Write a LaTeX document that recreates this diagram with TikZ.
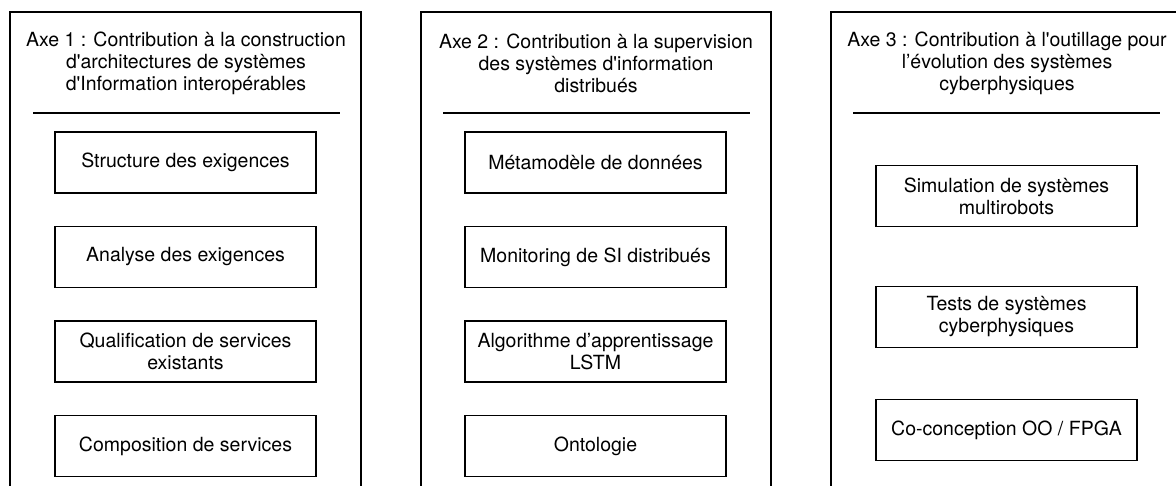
\documentclass[tikz,border=0pt]{standalone}
\usepackage{fontspec}
\newfontfamily\axefont{TeX Gyre Heros}
\usepackage{tikz}
\usetikzlibrary{calc}
\def\drawaxe{\draw[line width=0.7pt]}
\def\titlenode{\node[align=center,inner sep=0pt,font=\axefont\fontsize{9.75}{11}\selectfont]}
\def\tasknode{\node[draw,line width=0.7pt,minimum width=130.5pt,minimum height=30.5pt,inner sep=1pt,align=center,font=\axefont\fontsize{9.75}{11}\selectfont]}

\begin{document}
\begin{tikzpicture}[x=0.5pt,y=-0.5pt]
\clip (0,0) rectangle (1176,486);

% Axe 1
\coordinate (a1) at (10,12); % everything below is relative to (a1)
\drawaxe (a1) rectangle ($ (a1) + (351,520) $);
\titlenode (t1) at ($ (a1) + (176,51) $) {Axe 1 : Contribution à la construction\\d'architectures de systèmes\\d'Information interopérables};
\coordinate (s1l) at ($ (a1) + (23,101) $);
\coordinate (s1r) at ($ (a1) + (330,101) $);
\drawaxe (s1l) -- (s1r);
\tasknode (struct) at ($ (a1) + (175.5,150.5) $) {Structure des exigences};
\tasknode (analyse) at ($ (a1) + (175.5,245) $) {Analyse des exigences};
\tasknode (qualif) at ($ (a1) + (175.5,339.5) $) {Qualification de services\\existants};
\tasknode (compo) at ($ (a1) + (175.5,434) $) {Composition de services};

% Axe 2
\coordinate (a2) at (421,12);
\drawaxe (a2) rectangle ($ (a2) + (350,520) $);
\titlenode (t2) at ($ (a2) + (175,51) $) {Axe 2 : Contribution à la supervision\\des systèmes d'information\\distribués};
\coordinate (s2l) at ($ (a2) + (22,101) $);
\coordinate (s2r) at ($ (a2) + (329,101) $);
\drawaxe (s2l) -- (s2r);
\tasknode (meta) at ($ (a2) + (174.5,150.5) $) {Métamodèle de données};
\tasknode (monit) at ($ (a2) + (174.5,245) $) {Monitoring de SI distribués};
\tasknode (lstm) at ($ (a2) + (174.5,339.5) $) {Algorithme d’apprentissage\\LSTM};
\tasknode (onto) at ($ (a2) + (174.5,434) $) {Ontologie};

% Axe 3 (right side runs off the page)
\coordinate (a3) at (831,12);
\drawaxe (a3) rectangle ($ (a3) + (352,520) $);
\titlenode (t3) at ($ (a3) + (176,51) $) {Axe 3 : Contribution à l'outillage pour\\l’évolution des systèmes\\cyberphysiques};
\coordinate (s3l) at ($ (a3) + (22,101) $);
\coordinate (s3r) at ($ (a3) + (329,101) $);
\drawaxe (s3l) -- (s3r);
\tasknode (simu) at ($ (a3) + (175.5,184) $) {Simulation de systèmes\\multirobots};
\tasknode (tests) at ($ (a3) + (175.5,305) $) {Tests de systèmes\\cyberphysiques};
\tasknode (cocon) at ($ (a3) + (175.5,418) $) {Co-conception OO / FPGA};
\end{tikzpicture}
\end{document}
